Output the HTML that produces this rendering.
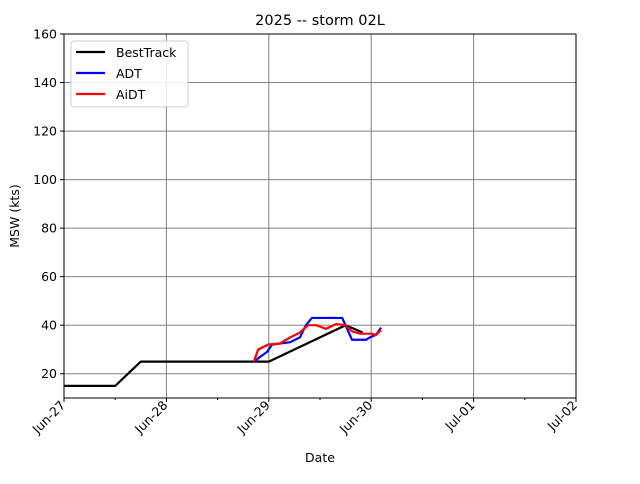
<!DOCTYPE html>
<html><head><meta charset="utf-8"><style>
body{margin:0;background:#fff;font-family:"DejaVu Sans","Liberation Sans",sans-serif;}
</style></head><body>
<svg id="chart" width="640" height="480" xmlns="http://www.w3.org/2000/svg" font-family="DejaVu Sans, Liberation Sans, sans-serif">
<rect width="640" height="480" fill="#fff"/>
<g id="grid"></g>
<g id="series"></g>
<rect x="64" y="34" width="512" height="364" fill="none" stroke="#000" stroke-width="1"/>
<g id="axes"></g>
<text x="320" y="25" text-anchor="middle" font-size="14.5">2025 -- storm 02L</text>
<text x="320" y="462" text-anchor="middle" font-size="12.5">Date</text>
<text x="19" y="216" text-anchor="middle" font-size="12.5" transform="rotate(-90 19 216)">MSW (kts)</text>
<g>
<rect x="71" y="41" width="117" height="66" rx="3" fill="#fff" fill-opacity="0.85" stroke="#ccc"/>
<g><line x1="76" y1="52" x2="105" y2="52" stroke="#000" stroke-width="2.2"/><text x="116" y="57" font-size="12.5">BestTrack</text></g>
<g><line x1="76" y1="73" x2="105" y2="73" stroke="#0000ff" stroke-width="2.2"/><text x="116" y="78" font-size="12.5">ADT</text></g>
<g><line x1="76" y1="94" x2="105" y2="94" stroke="#ff0000" stroke-width="2.2"/><text x="116" y="99" font-size="12.5">AiDT</text></g>
</g>
</svg>
<script>
const xTickLabels=["Jun-27","Jun-28","Jun-29","Jun-30","Jul-01","Jul-02"];
const yTicks=[20,40,60,80,100,120,140,160];
const btHours=[0,12,18,48,66,70];
const btValues=[15,15,25,25,40,37];
const adtHours=[44.5,46,47.6,48.75,53,55.3,56.7,58.1,65.2,67.5,70.8,71.7,73.1,74.3];
const adtValues=[25,27,29,32,33,35,40,43,43,34,34,35,36,39];
const aidtHours=[44.5,45.5,47.8,50.6,53,55.3,57.2,59.1,61.4,63.8,65.9,67.5,69.4,72.2,73.1,74.3];
const aidtValues=[25,30,32,32.5,35,37,40,40,38.5,40.5,40,37.5,36.5,36.5,36,38];
const X0=64,X1=576,Y0=398,Y1=34,YMIN=10,YMAX=160,HMAX=120;
const sx=h=>X0+(X1-X0)*h/HMAX;
const sy=v=>Y0-(Y0-Y1)*(v-YMIN)/(YMAX-YMIN);
const NS="http://www.w3.org/2000/svg";
const grid=document.getElementById('grid'),axes=document.getElementById('axes'),series=document.getElementById('series');
function mk(tag,attrs,parent){const e=document.createElementNS(NS,tag);for(const k in attrs)e.setAttribute(k,attrs[k]);parent.appendChild(e);return e;}
xTickLabels.forEach((lab,i)=>{
  const x=sx(i*24);
  const g=mk('line',{x1:x,x2:x,y1:Y1,y2:Y0,stroke:'#808080','stroke-width':1},grid);
  
  
  mk('line',{x1:x,x2:x,y1:Y0,y2:Y0+4,stroke:'#000'},axes);
  const t=mk('text',{x:x+2,y:Y0+8,'font-size':12.5,'text-anchor':'end',transform:`rotate(-45 ${x+2} ${Y0+8})`},axes);
  t.textContent=lab;
  
  
  if(i<xTickLabels.length-1){const xm=sx(i*24+12);mk('line',{x1:xm,x2:xm,y1:Y0,y2:Y0+2,stroke:'#000'},axes);}
});
yTicks.forEach(v=>{
  const y=sy(v);
  const g=mk('line',{x1:X0,x2:X1,y1:y,y2:y,stroke:'#808080','stroke-width':1},grid);
  
  
  mk('line',{x1:X0-4,x2:X0,y1:y,y2:y,stroke:'#000'},axes);
  const t=mk('text',{x:X0-7,y:y+4.5,'font-size':12.5,'text-anchor':'end'},axes);
  t.textContent=v;
  
  
});
function line(hs,vs,color,name){
  const p=mk('polyline',{points:hs.map((h,i)=>sx(h)+','+sy(vs[i])).join(' '),fill:'none',stroke:color,'stroke-width':2.2,'stroke-linejoin':'round'},series);
  
  
}
line(btHours,btValues,'#000','besttrack-line');
line(adtHours,adtValues,'#0000ff','adt-line');
line(aidtHours,aidtValues,'#ff0000','aidt-line');
</script>
</body></html>
